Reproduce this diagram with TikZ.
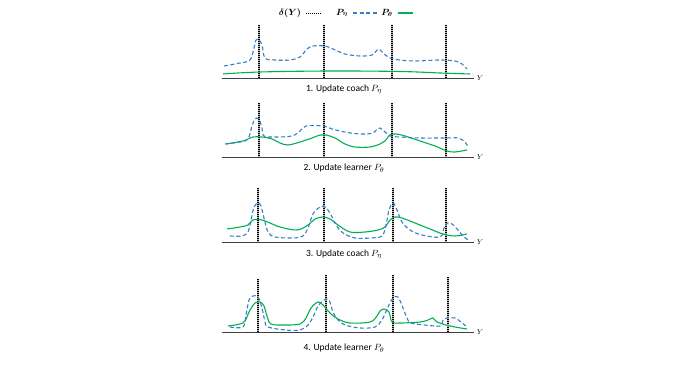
\documentclass[tikz,border=0pt]{standalone}
\usepackage{fontspec}
\usepackage{bm}
\setmainfont{Carlito}
\definecolor{pblue}{HTML}{3380C4}
\definecolor{pgreen}{HTML}{00B050}
\definecolor{axgray}{HTML}{404040}
\begin{document}
\begin{tikzpicture}[x=1pt,y=-1pt,
  coachline/.style={pblue,line width=1.1pt,dash pattern=on 4pt off 2.5pt},
  learnline/.style={pgreen,line width=1.1pt},
  deltabase/.style={black!30,line width=2.3pt},
  deltaline/.style={black,line width=2.3pt,dash pattern=on 1pt off 1pt},
  axisline/.style={axgray,line width=0.9pt},
  ylab/.style={font=\fontsize{7}{8}\selectfont,inner sep=0pt},
  caption/.style={font=\fontsize{9.5}{11}\selectfont,inner sep=0pt},
  legtext/.style={font=\fontsize{9}{10}\selectfont,inner sep=0pt}]
\useasboundingbox (0,0) rectangle (677,379);
% legend
\node[legtext] (l1) at (290,13) {$\bm{\delta(Y)}$};
\node[legtext] (l2) at (342,13) {$\bm{P_\eta}$};
\node[legtext] (l3) at (387,13) {$\bm{P_\theta}$};
\draw[black,line width=0.7pt,dash pattern=on 1pt off 1pt] (306,13) -- (322,13);
\draw[coachline] (353,13) -- (378,13);
\draw[learnline] (398,13) -- (413,13);

% ---------- panel 1 ----------
\draw[axisline] (222,78) -- (474,78);
\node[ylab] (y1) at (480,78) {$Y$};
\foreach \x in {259,324,392,446} {\draw[deltabase] (\x,25) -- (\x,78); \draw[deltaline] (\x,25) -- (\x,78);}
\draw[learnline] plot[smooth,tension=0.6] coordinates {(223,74) (260,72) (330,71) (400,71.5) (440,73) (470,74)};
\draw[coachline] plot[smooth,tension=0.55] coordinates {(224,66) (240,63) (250,60) (254,48) (256,40) (259,40) (262,45) (265,58) (275,60) (290,60) (300,57) (307,49) (313,46) (325,46) (333,49) (345,54) (360,56) (372,55) (377,50) (379,49) (383,53) (390,58) (400,60) (415,61) (440,60) (455,61) (462,64) (467,69)};
\node[caption] (c1) at (344,89) {1. Update coach $P_\eta$};

% ---------- panel 2 ----------
\draw[axisline] (222,157) -- (474,157);
\node[ylab] (y2) at (480,157) {$Y$};
\foreach \x in {259,324,392,446} {\draw[deltabase] (\x,103) -- (\x,157); \draw[deltaline] (\x,103) -- (\x,157);}
\draw[learnline] plot[smooth,tension=0.55] coordinates {(226,144) (243,141) (248,139) (253,137) (262,137) (272,139) (280,143) (288,145) (300,142) (312,138) (320,135) (326,135) (335,138) (345,144) (355,147) (370,147) (380,144) (385,141) (390,135) (396,134) (405,136) (420,141) (435,146) (447,151) (455,152) (467,150)};
\draw[coachline] plot[smooth,tension=0.55] coordinates {(225,144) (240,142) (248,139) (252,126) (255,119) (259,119) (262,128) (264,136) (275,137) (292,136) (300,131) (306,126) (323,126) (332,129) (345,132) (360,134) (373,133) (377,129) (380,128) (384,131) (390,136) (400,137) (420,138) (445,138) (458,138) (465,142) (468,147)};
\node[caption] (c2) at (344,168) {2. Update learner $P_\theta$};

% ---------- panel 3 ----------
\draw[axisline] (222,242) -- (474,242);
\node[ylab] (y3) at (480,242) {$Y$};
\foreach \x in {258,324,393,446} {\draw[deltabase] (\x,188) -- (\x,242); \draw[deltaline] (\x,188) -- (\x,242);}
\draw[learnline] plot[smooth,tension=0.55] coordinates {(227,229) (240,227) (248,225) (253,220) (262,220) (270,223) (280,227) (297,230) (308,225) (315,219) (323,217) (330,219) (338,225) (350,232) (365,232) (378,230) (385,227) (390,220) (395,217) (402,218) (415,223) (430,229) (443,234) (455,236) (467,234)};
\draw[coachline] plot[smooth,tension=0.55] coordinates {(230,236) (242,236) (248,232) (251,220) (254,207) (258,203) (261,206) (264,218) (268,232) (275,237) (293,238) (303,236) (308,228) (313,214) (320,207) (325,207) (330,213) (336,225) (343,233) (355,238) (370,238) (382,236) (386,225) (389,210) (393,203) (397,210) (402,222) (410,230) (422,235) (440,237) (444,228) (447,223) (452,224) (458,230) (463,236) (468,240)};
\node[caption] (c3) at (344,254) {3. Update coach $P_\eta$};

% ---------- panel 4 ----------
\draw[axisline] (222,332) -- (474,332);
\node[ylab] (y4) at (480,332) {$Y$};
\foreach \x/\t in {258/279,326/275,393/275,448/277} {\draw[deltabase] (\x,\t) -- (\x,332); \draw[deltaline] (\x,\t) -- (\x,332);}
\draw[learnline] plot[smooth,tension=0.55] coordinates {(228,326) (240,324) (245,321) (250,310) (255,303) (260,302) (264,306) (267,316) (271,324) (285,325) (300,324) (306,318) (311,308) (318,302) (323,305) (330,313) (338,319) (350,323) (370,322) (377,316) (380,311) (384,309) (389,312) (392,322) (400,323) (420,322) (428,320) (433,318) (437,322) (450,326) (467,329)};
\draw[coachline] plot[smooth,tension=0.55] coordinates {(230,327) (243,327) (246,315) (249,300) (253,296) (258,297) (262,308) (265,322) (268,327) (285,330) (300,330) (308,325) (313,317) (318,306) (324,300) (329,300) (333,312) (338,320) (345,325) (360,328) (375,327) (382,320) (388,307) (393,298) (398,297) (403,308) (407,318) (411,323) (425,325) (440,326) (443,320) (447,318) (455,318) (461,322) (467,327)};
\node[caption] (c4) at (344,348) {4. Update learner $P_\theta$};
\end{tikzpicture}
\end{document}
